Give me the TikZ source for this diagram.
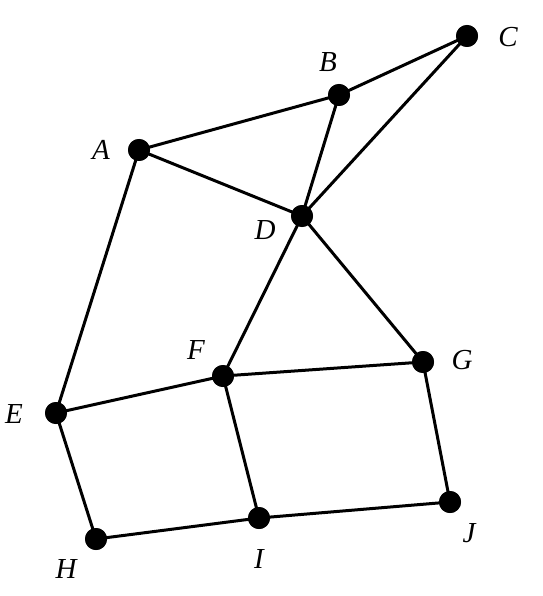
\documentclass[tikz,border=0pt]{standalone}
\usepackage{fontspec}
\setmainfont{Liberation Serif}[ItalicFont={Liberation Serif Italic}]
\begin{document}
\begin{tikzpicture}[x=1pt,y=-1pt,
  vtx/.style={circle,fill=black,inner sep=0pt,minimum size=22pt},
  lbl/.style={font=\fontsize{29}{32}\selectfont\itshape,inner sep=0pt},
  edge/.style={line width=3pt}]
\useasboundingbox (0,0) rectangle (542,596);
\node[vtx] (A) at (139,150) {};
\node[vtx] (B) at (339,95) {};
\node[vtx] (C) at (467,36) {};
\node[vtx] (D) at (302,216) {};
\node[vtx] (E) at (56,413) {};
\node[vtx] (F) at (223,376) {};
\node[vtx] (G) at (423,362) {};
\node[vtx] (H) at (96,539) {};
\node[vtx] (I) at (259,518) {};
\node[vtx] (J) at (450,502) {};
\node[lbl] (lA) at (101,150) {A};
\node[lbl] (lB) at (328,62) {B};
\node[lbl] (lC) at (508,37) {C};
\node[lbl] (lD) at (265,230) {D};
\node[lbl] (lE) at (14,414) {E};
\node[lbl] (lF) at (196,350) {F};
\node[lbl] (lG) at (462,360) {G};
\node[lbl] (lH) at (66,569) {H};
\node[lbl] (lI) at (259,559) {I};
\node[lbl] (lJ) at (469,533) {J};
\draw[edge] (A.center) -- (B.center) (B.center) -- (C.center) (A.center) -- (D.center)
  (B.center) -- (D.center) (C.center) -- (D.center) (A.center) -- (E.center)
  (D.center) -- (F.center) (D.center) -- (G.center) (E.center) -- (F.center)
  (F.center) -- (G.center) (E.center) -- (H.center) (F.center) -- (I.center)
  (G.center) -- (J.center) (H.center) -- (I.center) (I.center) -- (J.center);
\foreach \n in {A,B,C,D,E,F,G,H,I,J} \fill (\n) circle (11pt);
\end{tikzpicture}
\end{document}
